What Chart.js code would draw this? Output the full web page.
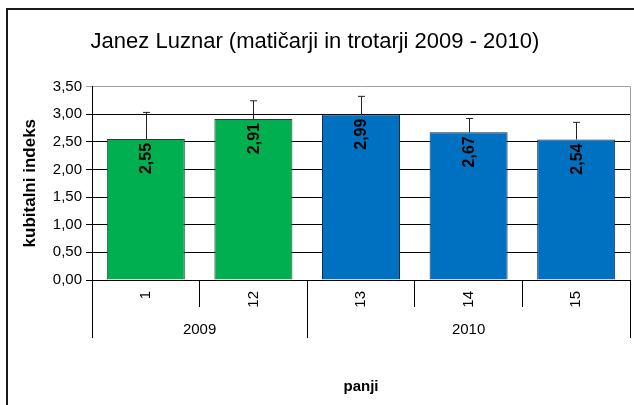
<!DOCTYPE html>
<html>
<head>
<meta charset="utf-8">
<script src="https://cdn.jsdelivr.net/npm/chart.js@4.4.0/dist/chart.umd.min.js"></script>
<style>
  html, body { margin: 0; padding: 0; background: #fff; }
</style>
</head>
<body>
<canvas id="chart" width="634" height="405"></canvas>
<script>
const categories = ['1', '12', '13', '14', '15'];
const years = ['2009', '2009', '2010', '2010', '2010'];
const values = [2.55, 2.91, 2.99, 2.67, 2.54];
const errors = [0.48, 0.33, 0.33, 0.25, 0.31];
const yTicks = [0, 0.5, 1, 1.5, 2, 2.5, 3, 3.5];
const yearColors = { '2009': '#00B050', '2010': '#0070C0' };
const yearBorders = { '2009': '#26402e', '2010': '#0f2c4a' };

const FONT = "'Liberation Sans', Arial, sans-serif";
const fmt = v => v.toFixed(2).replace('.', ',');

// frame, error bars, value labels and the year row under the categories
const extras = {
    id: 'extras',
    beforeDraw(chart) {
        const ctx = chart.ctx;
        ctx.save();
        ctx.fillStyle = '#fff';
        ctx.fillRect(0, 0, chart.width, chart.height);
        ctx.strokeStyle = '#1a1a1a';
        ctx.lineWidth = 2;
        ctx.strokeRect(7, 9, chart.width + 20, chart.height + 20);
        ctx.restore();
    },
    afterDatasetsDraw(chart) {
        const ctx = chart.ctx;
        const y = chart.scales.y;
        const area = chart.chartArea;
        const bars = chart.getDatasetMeta(0).data;
        ctx.save();
        // plot area right border
        ctx.strokeStyle = '#a0a0a0';
        ctx.lineWidth = 1;
        ctx.beginPath();
        ctx.moveTo(area.right + 0.5, area.top);
        ctx.lineTo(area.right + 0.5, area.bottom);
        ctx.stroke();

        bars.forEach((bar, i) => {
            const top = y.getPixelForValue(values[i] + errors[i]);
            const x = Math.round(bar.x) + 0.5;
            ctx.strokeStyle = '#222';
            ctx.lineWidth = 1;
            ctx.beginPath();
            ctx.moveTo(x, bar.y);
            ctx.lineTo(x, top);
            ctx.moveTo(x - 3.5, top);
            ctx.lineTo(x + 3.5, top);
            ctx.stroke();

            ctx.save();
            ctx.translate(bar.x, bar.y + 4);
            ctx.rotate(-Math.PI / 2);
            ctx.fillStyle = '#000';
            ctx.font = 'bold 16px ' + FONT;
            ctx.textAlign = 'right';
            ctx.textBaseline = 'middle';
            ctx.fillText(fmt(values[i]), 0, 1);
            ctx.restore();
        });
        ctx.restore();
    },
    afterDraw(chart) {
        const ctx = chart.ctx;
        const x = chart.scales.x;
        const area = chart.chartArea;
        const half = (x.getPixelForValue(1) - x.getPixelForValue(0)) / 2;
        const groups = [];
        years.forEach((yr, i) => {
            const last = groups[groups.length - 1];
            if (last && last.label === yr) last.end = i;
            else groups.push({ label: yr, start: i, end: i });
        });
        ctx.save();
        ctx.strokeStyle = '#000';
        ctx.lineWidth = 1;
        ctx.fillStyle = '#000';
        ctx.font = '15px ' + FONT;
        ctx.textAlign = 'center';
        ctx.textBaseline = 'middle';
        groups.forEach((g, k) => {
            const l = x.getPixelForValue(g.start) - half;
            const r = x.getPixelForValue(g.end) + half;
            ctx.beginPath();
            if (k === 0) {
                ctx.moveTo(Math.round(l) + 0.5, area.bottom);
                ctx.lineTo(Math.round(l) + 0.5, area.bottom + 58);
            }
            ctx.moveTo(Math.round(r) + 0.5, area.bottom);
            ctx.lineTo(Math.round(r) + 0.5, area.bottom + 58);
            ctx.stroke();
            ctx.fillText(g.label, (l + r) / 2, area.bottom + 50);
        });
        ctx.restore();
    }
};

new Chart(document.getElementById('chart'), {
    type: 'bar',
    data: {
        labels: categories,
        datasets: [{
            data: values,
            backgroundColor: years.map(yr => yearColors[yr]),
            borderColor: years.map(yr => yearBorders[yr]),
            borderWidth: 1,
            barPercentage: 0.725,
            categoryPercentage: 1
        }]
    },
    options: {
        responsive: false,
        animation: false,
        layout: { padding: { top: 0, right: 4, bottom: 0, left: 0 } },
        plugins: {
            legend: { display: false },
            tooltip: { enabled: false },
            title: {
                display: true,
                text: 'Janez Luznar (matičarji in trotarji 2009 - 2010)',
                color: '#000',
                font: { family: FONT, size: 22, weight: 'normal' },
                padding: { top: 29, bottom: 31 }
            }
        },
        scales: {
            y: {
                min: 0,
                max: 3.5,
                afterBuildTicks: s => { s.ticks = yTicks.map(v => ({ value: v })); },
                afterFit: s => { s.width = 92; },
                ticks: {
                    color: '#000',
                    font: { family: FONT, size: 15 },
                    padding: 4,
                    callback: v => fmt(v)
                },
                grid: {
                    color: c => (c.tick && c.tick.value === 3.5 ? '#a0a0a0' : '#000'),
                    tickLength: 6
                },
                border: { color: '#000' },
                title: {
                    display: true,
                    text: 'kubitalni indeks',
                    color: '#000',
                    font: { family: FONT, size: 17, weight: 'bold' },
                    padding: { top: 20 }
                }
            },
            x: {
                afterFit: s => { s.height = 125; },
                ticks: {
                    color: '#000',
                    font: { family: FONT, size: 15 },
                    minRotation: 90,
                    maxRotation: 90,
                    padding: -16
                },
                grid: {
                    drawOnChartArea: false,
                    color: '#000',
                    tickLength: 27
                },
                border: { color: '#000' },
                title: {
                    display: true,
                    text: 'panji',
                    color: '#000',
                    font: { family: FONT, size: 15, weight: 'bold' },
                    padding: { bottom: 9 }
                }
            }
        }
    },
    plugins: [extras]
});
</script>
</body>
</html>
